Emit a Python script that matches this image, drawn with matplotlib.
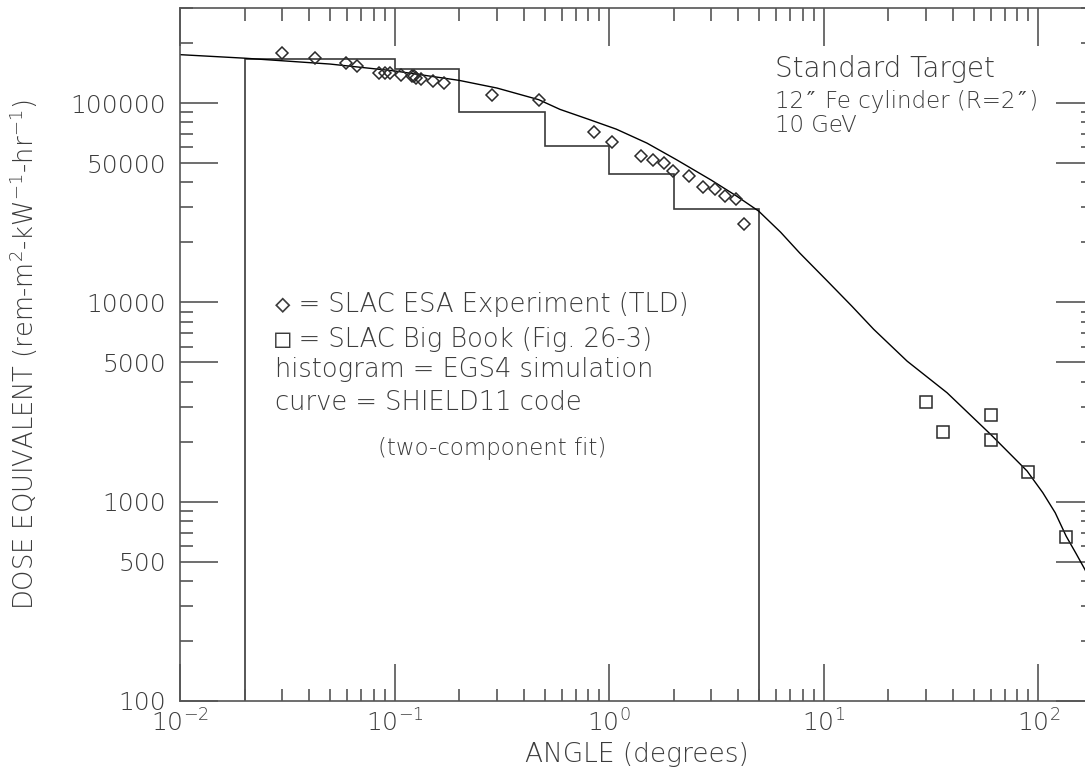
import numpy as np
import matplotlib
matplotlib.use("Agg")
import matplotlib.pyplot as plt
from matplotlib.ticker import FixedLocator, LogLocator, NullFormatter

# SLAC ESA experiment (TLD), diamonds
esa_angle = [0.0298, 0.0424, 0.0597, 0.067, 0.0845, 0.0898, 0.0948, 0.107, 0.12,
             0.123, 0.126, 0.133, 0.151, 0.17, 0.285, 0.473, 0.849, 1.03, 1.41,
             1.60, 1.80, 1.99, 2.36, 2.74, 3.11, 3.48, 3.89, 4.25]
esa_dose = [1.79e5, 1.68e5, 1.58e5, 1.53e5, 1.42e5, 1.41e5, 1.42e5, 1.39e5, 1.36e5,
            1.37e5, 1.34e5, 1.32e5, 1.29e5, 1.26e5, 1.10e5, 1.035e5, 7.18e4, 6.4e4,
            5.42e4, 5.18e4, 4.98e4, 4.57e4, 4.3e4, 3.8e4, 3.69e4, 3.43e4, 3.3e4, 2.47e4]

# SLAC Big Book (Fig. 26-3), squares
book_angle = [30.1, 35.9, 60.0, 60.0, 89.8, 135.0]
book_dose = [3180, 2230, 2710, 2030, 1413, 667]

# EGS4 simulation histogram
hist_edges = [0.02, 0.1, 0.2, 0.5, 1.0, 2.0, 5.0]
hist_dose = [1.66e5, 1.49e5, 8.98e4, 6.1e4, 4.4e4, 2.93e4]

# SHIELD11 curve (two-component fit)
curve_angle = [0.01, 0.02, 0.05, 0.1, 0.2, 0.3, 0.47, 0.59, 0.8, 1.08, 1.5, 2.06,
               3.0, 3.92, 4.98, 6.3, 7.73, 10.4, 13.5, 17.1, 24.5, 37.6, 59.9,
               88.7, 105, 120, 135, 150, 165, 180]
curve_dose = [1.75e5, 1.68e5, 1.57e5, 1.45e5, 1.30e5, 1.19e5, 1.04e5, 9.3e4, 8.3e4,
              7.4e4, 6.3e4, 5.2e4, 4.1e4, 3.42e4, 2.87e4, 2.25e4, 1.77e4, 1.28e4,
              9.6e3, 7330, 5070, 3520, 2180, 1426, 1110, 880, 671, 550, 457, 380]

y_ticks = [100, 500, 1000, 5000, 10000, 50000, 100000]
x_ticks = [0.01, 0.1, 1, 10, 100]
x_labels = [r"$\mathregular{10^{-2}}$", r"$\mathregular{10^{-1}}$",
            r"$\mathregular{10^{0}}$", r"$\mathregular{10^{1}}$",
            r"$\mathregular{10^{2}}$"]

txt = "#3c3c3c"
axc = "#555555"
plt.rcParams['font.family'] = ['DejaVu Sans', 'DejaVu Sans Mono']
plt.rcParams['font.weight'] = 'light'
plt.rcParams['axes.labelweight'] = 'light'
plt.rcParams['mathtext.fontset'] = 'dejavusans'

fig = plt.figure(figsize=(10.85, 7.72), dpi=100)
W, H = 1085.0, 772.0
ax = fig.add_axes([180 / W, 1 - 701 / H, (1093 - 180) / W, (701 - 8) / H])
ax.set_xscale('log')
ax.set_yscale('log')
ax.set_xlim(0.01, 180)
ax.set_ylim(100, 3e5)

ax.stairs(hist_dose, hist_edges, baseline=100, color="#3a3a3a", lw=1.2)
ax.plot(curve_angle, curve_dose, color="black", lw=1.0)
ax.plot(esa_angle, esa_dose, ls='none', marker='D', ms=6.6, mfc='none',
        mec="#2a2a2a", mew=1.1)
ax.plot(book_angle, book_dose, ls='none', marker='s', ms=9.0, mfc='none',
        mec="#2a2a2a", mew=1.1)

for s in ax.spines.values():
    s.set_color(axc)
    s.set_linewidth(1.2)

ax.xaxis.set_major_locator(FixedLocator(x_ticks))
ax.set_xticklabels(x_labels)
ax.xaxis.set_minor_locator(LogLocator(base=10, subs=np.arange(2, 10)))
ax.xaxis.set_minor_formatter(NullFormatter())

ax.yaxis.set_major_locator(FixedLocator(y_ticks))
ax.set_yticklabels([str(v) for v in y_ticks])
ax.yaxis.set_minor_locator(LogLocator(base=10, subs=[2, 3, 4, 6, 7, 8, 9]))
ax.yaxis.set_minor_formatter(NullFormatter())

ax.tick_params(which='both', direction='in', top=True, right=True,
               color=axc, width=1.2, labelcolor=txt, labelsize=18)
ax.tick_params(which='major', length=27)
ax.tick_params(which='minor', length=9)
ax.tick_params(axis='y', which='major', pad=10)
ax.tick_params(axis='x', which='major', pad=6)

ax.set_xlabel("ANGLE (degrees)", fontsize=19, color=txt, labelpad=4)
ax.set_ylabel(r"DOSE EQUIVALENT (rem-m$\mathregular{^2}$-kW$\mathregular{^{-1}}$"
              r"-hr$\mathregular{^{-1}}$)", fontsize=18.5, color=txt, labelpad=22)

# annotations
fig.text(775 / W, 1 - 77 / H, "Standard Target", fontsize=20, color=txt, va='baseline')
fig.text(775 / W, 1 - 108 / H, "12\u2033 Fe cylinder (R=2\u2033)", fontsize=16.5,
         color=txt, va='baseline')
fig.text(775 / W, 1 - 132 / H, "10 GeV", fontsize=16.5, color=txt, va='baseline')

legend_lines = ["\u25c7 = SLAC ESA Experiment (TLD)",
                "\u25a1 = SLAC Big Book (Fig. 26-3)",
                "histogram = EGS4 simulation",
                "curve = SHIELD11 code"]
legend_base = [312, 347, 377, 410]
for line, yb in zip(legend_lines, legend_base):
    fig.text(275 / W, 1 - yb / H, line, fontsize=18.5, color=txt, va='baseline')
fig.text(378 / W, 1 - 455 / H, "(two-component fit)", fontsize=16.5, color=txt,
         va='baseline')

fig.savefig("out.png", dpi=100)
